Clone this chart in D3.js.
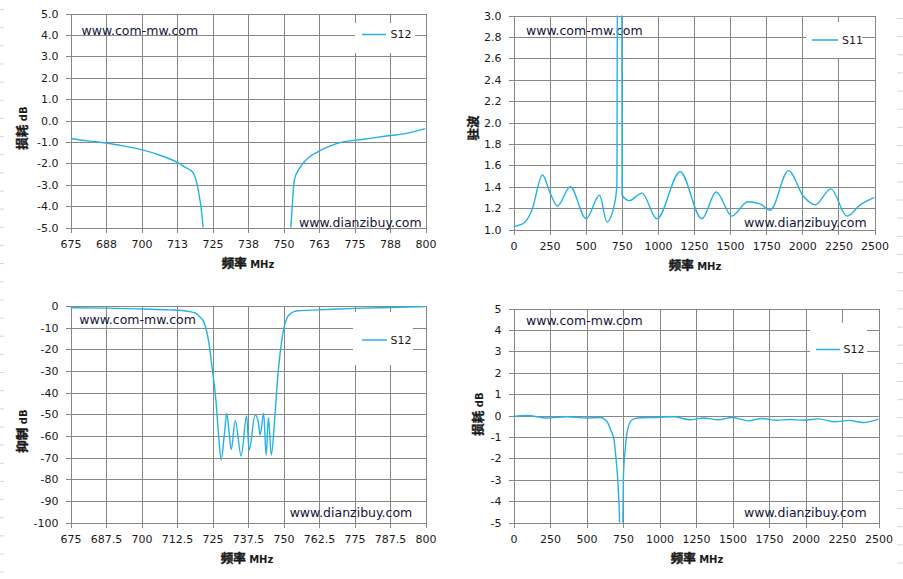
<!DOCTYPE html>
<html><head><meta charset="utf-8">
<script src="https://cdn.jsdelivr.net/npm/d3@7"></script>
<style>
body{margin:0;background:#fff}
svg{display:block}
.grid line{stroke:#878787;stroke-width:1;shape-rendering:crispEdges}
.grid .domain{display:none}
.ax .domain{display:none}
.ax line{stroke:#878787;stroke-width:1;shape-rendering:crispEdges}
.ax text{font-family:"DejaVu Sans",sans-serif;font-size:11px;fill:#1a1a1a}
</style>
</head><body>
<svg id="c" width="903" height="579"></svg>
<script>
// ---------- Top-left: S12 insertion loss (675-800 MHz) ----------
const tlFreq = [675, 681, 687.5, 694, 700, 706, 710, 713, 715.3, 717, 718.2, 719, 719.6, 720.3, 720.9, 721.7, 722.3,
                752.3, 752.6, 753.1, 753.6, 754.2, 754.9, 756.9, 759, 761.6, 766.3, 771, 776.9, 785, 793.3, 800];
const tlLoss = [-0.84, -0.95, -1.05, -1.2, -1.36, -1.6, -1.8, -1.98, -2.18, -2.3, -2.45, -2.7, -3.0, -3.5, -4.0, -5.0, -6.0,
                -6.0, -5.0, -4.0, -3.0, -2.6, -2.4, -2.0, -1.72, -1.5, -1.2, -1.0, -0.9, -0.75, -0.6, -0.38];
const tlXTicks = [675, 687.5, 700, 712.5, 725, 737.5, 750, 762.5, 775, 787.5, 800];
const tlXLabels = ["675","688","700","713","725","738","750","763","775","788","800"];
const tlYTicks = [5, 4, 3, 2, 1, 0, -1, -2, -3, -4, -5];
const tlYLabels = ["5.0","4.0","3.0","2.0","1.0","0.0","-1.0","-2.0","-3.0","-4.0","-5.0"];

// ---------- Top-right: S11 VSWR (0-2500 MHz) ----------
const trFreq = [0, 40, 81, 127, 201, 254, 305, 393, 503, 596, 647, 704, 716, 720, 750, 752, 803, 889, 993, 1154,
                1304, 1404, 1512, 1622, 1708, 1778, 1904, 2008, 2089, 2198, 2309, 2401, 2500];
const trVswr = [1.024, 1.04, 1.07, 1.18, 1.51, 1.34, 1.22, 1.40, 1.10, 1.32, 1.07, 1.27, 1.43, 3.5, 3.5, 1.32, 1.27, 1.34, 1.10, 1.54,
                1.10, 1.35, 1.125, 1.26, 1.24, 1.18, 1.55, 1.31, 1.23, 1.38, 1.125, 1.23, 1.30];
const trXTicks = [0, 250, 500, 750, 1000, 1250, 1500, 1750, 2000, 2250, 2500];
const trXLabels = ["0","250","500","750","1000","1250","1500","1750","2000","2250","2500"];
const trYTicks = [3.0, 2.8, 2.6, 2.4, 2.2, 2.0, 1.8, 1.6, 1.4, 1.2, 1.0];
const trYLabels = ["3.0","2.8","2.6","2.4","2.2","2.0","1.8","1.6","1.4","1.2","1.0"];

// ---------- Bottom-left: S12 rejection (675-800 MHz) ----------
const blFreq = [675, 687.5, 700, 710, 715, 717, 718.9, 720.5, 721.8, 723, 723.6, 725, 726.2, 727.1, 728.05, 729.2, 730,
                730.9, 731.6, 733, 735.1, 737, 737.9, 740, 741, 741.8, 743, 743.9, 744.7, 745.7, 746.8, 747.7, 748.8,
                750, 751.2, 752.9, 755, 762.5, 775, 787.5, 800];
const blRej = [-0.8, -1.0, -1.4, -1.8, -2.2, -2.6, -3.2, -5, -7, -12, -16, -30, -43.5, -59, -71, -59, -49.6,
               -59, -66.3, -53, -69.3, -50.8, -66.6, -50.4, -52.7, -59.6, -49.6, -68.9, -51.5, -68.9, -54, -37.3, -21.9,
               -11.1, -5.7, -3.1, -2.2, -1.8, -1.1, -0.7, -0.3];
const blXTicks = [675, 687.5, 700, 712.5, 725, 737.5, 750, 762.5, 775, 787.5, 800];
const blXLabels = ["675","687.5","700","712.5","725","737.5","750","762.5","775","787.5","800"];
const blYTicks = [0, -10, -20, -30, -40, -50, -60, -70, -80, -90, -100];
const blYLabels = ["0","-10","-20","-30","-40","-50","-60","-70","-80","-90","-100"];

// ---------- Bottom-right: S12 wideband loss (0-2500 MHz) ----------
const brFreq = [0, 92, 229, 366, 503, 594, 640, 674, 685, 703, 719, 726, 730, 745, 749, 753, 765, 781, 811, 850,
                959, 1096, 1210, 1301, 1404, 1496, 1610, 1701, 1804, 1895, 1986, 2089, 2203, 2295, 2397, 2500];
const brLoss = [-0.05, 0.0, -0.12, -0.06, -0.12, -0.09, -0.28, -0.82, -1.0, -2.07, -3.6, -5, -8, -8, -5, -2.85, -1.6, -0.68, -0.21, -0.12,
                -0.09, -0.06, -0.2, -0.12, -0.2, -0.09, -0.25, -0.14, -0.22, -0.19, -0.22, -0.16, -0.3, -0.23, -0.33, -0.17];
const brXTicks = trXTicks;
const brXLabels = trXLabels;
const brYTicks = [5, 4, 3, 2, 1, 0, -1, -2, -3, -4, -5];
const brYLabels = ["5","4","3","2","1","0","-1","-2","-3","-4","-5"];

const LINE = "#22b2e8";
const TXT = "#1a1a1a";
const svg = d3.select("#c");

// faint spreadsheet row marks at page edges
svg.append("g").selectAll("line").data(d3.range(0, 32)).join("line")
  .attr("x1", 0).attr("x2", 4).attr("y1", d => 9.5 + d * 18.15).attr("y2", d => 9.5 + d * 18.15)
  .attr("stroke", "#d6d6d6").attr("stroke-width", 1);
svg.append("g").selectAll("line").data(d3.range(0, 32)).join("line")
  .attr("x1", 897).attr("x2", 903).attr("y1", d => 18.5 + d * 18.15).attr("y2", d => 18.5 + d * 18.15)
  .attr("stroke", "#d6d6d6").attr("stroke-width", 1);

function cnSpan(sel, txt) {
  sel.append("tspan").attr("font-family", "Noto Sans CJK SC").attr("font-size", "12.5px")
    .attr("stroke", TXT).attr("stroke-width", 0.45).text(txt);
}

let clipId = 0;
function drawChart(o) {
  const g = svg.append("g");
  const x = d3.scaleLinear().domain(o.xDomain).range([o.left, o.right]);
  const y = d3.scaleLinear().domain(o.yDomain).range([o.bottom, o.top]);
  const w = o.right - o.left, h = o.bottom - o.top;

  // vertical gridlines
  g.append("g").attr("class", "grid").attr("transform", `translate(0,${o.bottom})`)
    .call(d3.axisBottom(x).tickValues(o.xTicks).tickSize(-h).tickFormat(""));
  // horizontal gridlines
  g.append("g").attr("class", "grid").attr("transform", `translate(${o.left},0)`)
    .call(d3.axisLeft(y).tickValues(o.yTicks).tickSize(-w).tickFormat(""));
  // outward ticks + labels
  g.append("g").attr("class", "ax").attr("transform", `translate(0,${o.bottom})`)
    .call(d3.axisBottom(x).tickValues(o.xTicks).tickSize(5).tickPadding(8)
      .tickFormat((d, i) => o.xLabels[i]));
  g.append("g").attr("class", "ax").attr("transform", `translate(${o.left},0)`)
    .call(d3.axisLeft(y).tickValues(o.yTicks).tickSize(5).tickPadding(7)
      .tickFormat((d, i) => o.yLabels[i]));

  // legend box (covers gridlines)
  const lg = g.append("g");
  lg.append("rect").attr("x", o.legend.x0).attr("y", o.legend.y0)
    .attr("width", o.legend.x1 - o.legend.x0).attr("height", o.legend.y1 - o.legend.y0).attr("fill", "#fff");
  lg.append("line").attr("x1", o.legend.lx0).attr("x2", o.legend.lx1)
    .attr("y1", o.legend.ly).attr("y2", o.legend.ly).attr("stroke", LINE).attr("stroke-width", 1.5);
  lg.append("text").attr("x", o.legend.tx).attr("y", o.legend.ly).attr("dy", "0.36em")
    .attr("font-family", "DejaVu Sans, sans-serif").attr("font-size", "11px").attr("fill", TXT)
    .text(o.series);

  // watermarks
  g.append("text").attr("x", o.wm1[0]).attr("y", o.wm1[1])
    .attr("font-family", "DejaVu Sans, sans-serif").attr("font-size", "12.5px").attr("fill", "#14143a")
    .text("www.com-mw.com");
  g.append("text").attr("x", o.wm2[0]).attr("y", o.wm2[1]).attr("text-anchor", "end")
    .attr("font-family", "DejaVu Sans, sans-serif").attr("font-size", "12.5px").attr("fill", "#14143a")
    .text("www.dianzibuy.com");

  // data line, clipped to plot area
  const id = "clip" + (clipId++);
  g.append("clipPath").attr("id", id).append("rect")
    .attr("x", o.left).attr("y", o.top).attr("width", w).attr("height", h);
  const pts = o.xs.map((v, i) => [v, o.ys[i]]);
  g.append("path").datum(pts).attr("clip-path", `url(#${id})`)
    .attr("fill", "none").attr("stroke", LINE).attr("stroke-width", 1.4)
    .attr("d", d3.line().x(d => x(d[0])).y(d => y(d[1])).curve(d3.curveMonotoneX));

  // axis titles
  const xt = g.append("text").attr("x", o.xTitleX).attr("y", o.bottom + 40).attr("text-anchor", "middle")
    .attr("font-weight", "bold").attr("fill", TXT);
  cnSpan(xt, "频率");
  xt.append("tspan").attr("font-family", "DejaVu Sans").attr("font-size", "10px").text(" MHz");

  const yt = g.append("text").attr("transform", `translate(${o.yTitleX},${o.yTitleY}) rotate(-90)`)
    .attr("text-anchor", "middle").attr("dy", "0.36em").attr("font-weight", "bold").attr("fill", TXT);
  cnSpan(yt, o.yTitleCn);
  if (o.yTitleUnit) yt.append("tspan").attr("font-family", "DejaVu Sans").attr("font-size", "10px").text(" " + o.yTitleUnit);
}

drawChart({
  left: 70.5, right: 425.5, top: 13.5, bottom: 227.5,
  xDomain: [675, 800], yDomain: [-5, 5],
  xTicks: tlXTicks, xLabels: tlXLabels, yTicks: tlYTicks, yLabels: tlYLabels,
  xs: tlFreq, ys: tlLoss, series: "S12",
  legend: {x0: 355, x1: 415, y0: 23, y1: 53, lx0: 362, lx1: 386, ly: 34.5, tx: 390.5},
  wm1: [81.5, 35], wm2: [421.7, 226.5],
  xTitleX: 248, yTitleX: 21, yTitleY: 128, yTitleCn: "损耗", yTitleUnit: "dB"
});
drawChart({
  left: 513.5, right: 874.5, top: 15.5, bottom: 229.5,
  xDomain: [0, 2500], yDomain: [1.0, 3.0],
  xTicks: trXTicks, xLabels: trXLabels, yTicks: trYTicks, yLabels: trYLabels,
  xs: trFreq, ys: trVswr, series: "S11",
  legend: {x0: 806, x1: 862, y0: 22, y1: 58, lx0: 812, lx1: 838, ly: 40, tx: 842},
  wm1: [526, 34.5], wm2: [866.7, 226.5],
  xTitleX: 695, yTitleX: 472.5, yTitleY: 128, yTitleCn: "驻波", yTitleUnit: ""
});
drawChart({
  left: 70.5, right: 425.5, top: 306, bottom: 522.5,
  xDomain: [675, 800], yDomain: [-100, 0],
  xTicks: blXTicks, xLabels: blXLabels, yTicks: blYTicks, yLabels: blYLabels,
  xs: blFreq, ys: blRej, series: "S12",
  legend: {x0: 353, x1: 413, y0: 312, y1: 365, lx0: 362, lx1: 387, ly: 340, tx: 390.5},
  wm1: [79.3, 324], wm2: [412.3, 516.5],
  xTitleX: 247, yTitleX: 21, yTitleY: 431, yTitleCn: "抑制", yTitleUnit: "dB"
});
drawChart({
  left: 513.5, right: 878.5, top: 308.5, bottom: 522.5,
  xDomain: [0, 2500], yDomain: [-5, 5],
  xTicks: brXTicks, xLabels: brXLabels, yTicks: brYTicks, yLabels: brYLabels,
  xs: brFreq, ys: brLoss, series: "S12",
  legend: {x0: 810, x1: 867, y0: 323, y1: 373, lx0: 816, lx1: 840, ly: 349.5, tx: 843.5},
  wm1: [526, 324.5], wm2: [866.7, 516.5],
  xTitleX: 697, yTitleX: 477.5, yTitleY: 414, yTitleCn: "损耗", yTitleUnit: "dB"
});
</script>
</body></html>
